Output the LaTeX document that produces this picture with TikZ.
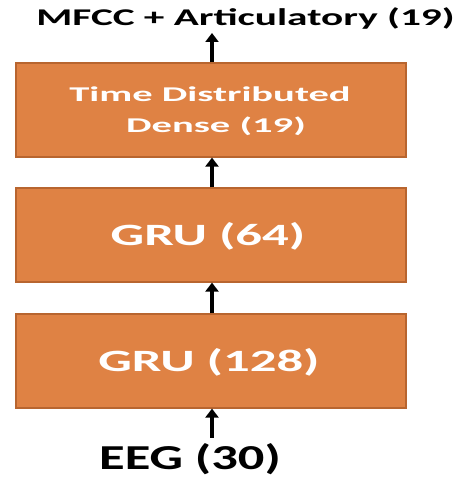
\documentclass[tikz,border=0pt]{standalone}
\usepackage{fontspec}
\setmainfont{Carlito}
\usetikzlibrary{arrows.meta}
\definecolor{boxfill}{HTML}{DF8244}
\definecolor{boxedge}{HTML}{B8652F}
\tikzset{
  layerbox/.style={draw=boxedge, line width=1.2pt, fill=boxfill, minimum width=390pt, inner sep=0pt, text=white},
  flow/.style={-{Triangle[length=9pt,width=13pt]}, line width=3.2pt, black},
}
\newcommand{\wide}[2]{\scalebox{#1}[1]{#2}}
\begin{document}
\begin{tikzpicture}[x=1pt,y=1pt]
\useasboundingbox (0,0) rectangle (461,477);
\node[layerbox, minimum height=94pt] (dense) at (211,367) {};
\node[text=white, font=\fontsize{21}{21}\selectfont\bfseries] (d1) at (210,383) {\wide{1.93}{Time Distributed}};
\node[text=white, font=\fontsize{21}{21}\selectfont\bfseries] (d2) at (216,351) {\wide{1.93}{Dense (19)}};
\node[layerbox, minimum height=94pt] (gru64) at (211,242) {};
\node[text=white, font=\fontsize{31}{31}\selectfont\bfseries] (t64) at (208,241) {\wide{1.7}{GRU (64)}};
\node[layerbox, minimum height=94pt] (gru128) at (211,116) {};
\node[text=white, font=\fontsize{31}{31}\selectfont\bfseries] (t128) at (209,115) {\wide{1.7}{GRU (128)}};
\node[font=\fontsize{24}{24}\selectfont\bfseries] (out) at (245.5,459) {\wide{1.72}{MFCC + Articulatory (19)}};
\node[font=\fontsize{35}{35}\selectfont\bfseries] (in) at (190,18) {\wide{1.5}{EEG (30)}};
\coordinate (inTop) at (212,39);
\coordinate (outBot) at (212,444);
\draw[flow] (inTop) -- (gru128.south -| inTop);
\draw[flow] (gru128.north -| inTop) -- (gru64.south -| inTop);
\draw[flow] (gru64.north -| inTop) -- (dense.south -| inTop);
\draw[flow] (dense.north -| inTop) -- (outBot);
\end{tikzpicture}
\end{document}
